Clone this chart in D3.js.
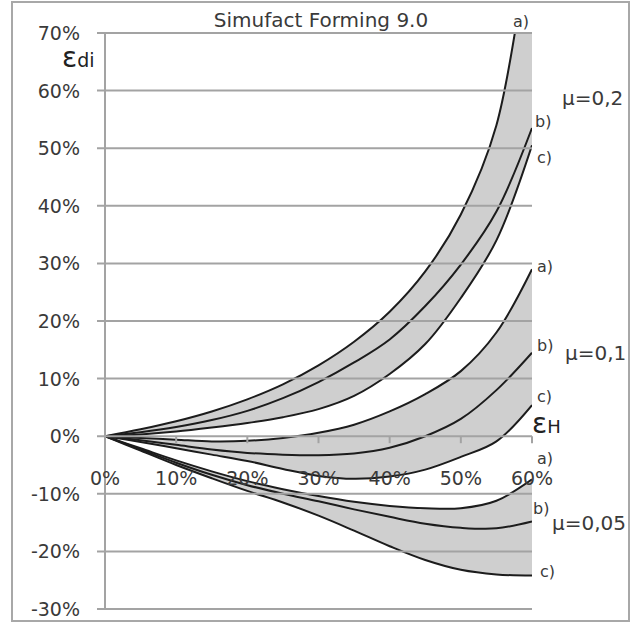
<!DOCTYPE html>
<html><head><meta charset="utf-8">
<script src="https://cdn.jsdelivr.net/npm/d3@7"></script>
<style>body{margin:0;background:#fff}</style>
</head><body>
<svg id="c" width="632" height="625"></svg>
<script>
// ---- data (values in %) ----
const strainH = [0,5,10,15,20,25,30,35,40,45,50,55,60];
const mu02a  = [0,1.2,2.6,4.3,6.4,9.0,12.3,16.4,21.6,28.6,38.5,54,90];
const mu02b  = [0,0.7,1.6,2.8,4.4,6.6,9.4,12.8,16.8,22.6,29.8,39,53.5];
const mu02c  = [0,0.3,0.8,1.5,2.3,3.3,4.7,7.0,10.8,16,24,34,50.5];
const mu01a  = [0,-0.3,-0.6,-0.9,-0.8,-0.3,0.6,2,4.3,7.3,11.3,18,29];
const mu01b  = [0,-0.7,-1.5,-2.3,-2.9,-3.2,-3.3,-3.0,-2.0,0,3.0,8,14.5];
const mu01c  = [0,-1.0,-2.1,-3.2,-4.3,-5.7,-6.9,-7.4,-7.0,-5.8,-3.6,-0.9,5.4];
const mu005a = [0,-2.1,-4.2,-6.1,-7.8,-9.2,-10.4,-11.4,-12.1,-12.5,-12.5,-11.2,-7.5];
const mu005b = [0,-2.3,-4.6,-6.7,-8.5,-10,-11.3,-12.7,-14.0,-15.2,-15.9,-16.0,-14.8];
const mu005c = [0,-2.5,-5.0,-7.3,-9.5,-11.5,-13.8,-16.4,-19.1,-21.5,-23.2,-24,-24.2];
const xTicks = [0,10,20,30,40,50,60];
const yTicks = [-30,-20,-10,0,10,20,30,40,50,60,70];
const title = "Simufact Forming 9.0";
const groups = [
  {mu:"μ=0,2",  a:mu02a,  b:mu02b,  c:mu02c},
  {mu:"μ=0,1",  a:mu01a,  b:mu01b,  c:mu01c},
  {mu:"μ=0,05", a:mu005a, b:mu005b, c:mu005c}
];

// ---- layout ----
const svg = d3.select("#c");
const x = d3.scaleLinear().domain([0,60]).range([105,532]);
const y = d3.scaleLinear().domain([-30,70]).range([609,33]);
const font = "DejaVu Sans, Verdana, sans-serif";
const txt = "#3a3a3a";
const grid = "#a3a3a3";

svg.append("rect").attr("x",12).attr("y",2).attr("width",617).attr("height",619)
  .attr("fill","#fff").attr("stroke","#a8a8a8").attr("stroke-width",2);

svg.append("defs").append("clipPath").attr("id","pa").append("rect")
  .attr("x",x(0)).attr("y",y(70)).attr("width",x(60)-x(0)).attr("height",y(-30)-y(70));

const curve = d3.curveCatmullRom.alpha(0.5);
const plot = svg.append("g").attr("clip-path","url(#pa)");

// fills between a) and c)
groups.forEach(g=>{
  const pts = strainH.map((v,i)=>({x:v, hi:g.a[i], lo:g.c[i]}));
  plot.append("path").datum(pts)
    .attr("fill","#cfcfcf")
    .attr("d", d3.area().curve(curve).x(d=>x(d.x)).y0(d=>y(d.lo)).y1(d=>y(d.hi)));
});

// gridlines
svg.append("g").selectAll("line").data(yTicks).join("line")
  .attr("x1",97).attr("x2",x(60)).attr("y1",d=>y(d)).attr("y2",d=>y(d))
  .attr("stroke",grid).attr("stroke-width",2);

// y axis line
svg.append("line").attr("x1",x(0)).attr("x2",x(0)).attr("y1",y(70)).attr("y2",y(-30))
  .attr("stroke",grid).attr("stroke-width",2);
// x axis ticks
svg.append("g").selectAll("line").data(xTicks).join("line")
  .attr("x1",d=>x(d)).attr("x2",d=>x(d)).attr("y1",y(0)).attr("y2",y(0)+7)
  .attr("stroke",grid).attr("stroke-width",2);

// curves
const line = d3.line().curve(curve).x(d=>x(d[0])).y(d=>y(d[1]));
groups.forEach(g=>{
  ["a","b","c"].forEach(k=>{
    plot.append("path").datum(strainH.map((v,i)=>[v,g[k][i]]))
      .attr("fill","none").attr("stroke","#1c1c1c").attr("stroke-width",2).attr("d",line);
  });
});

// tick labels
svg.append("g").selectAll("text").data(yTicks).join("text")
  .attr("x",80).attr("y",d=>y(d)+7).attr("text-anchor","end")
  .attr("font-family",font).attr("font-size",19).attr("fill",txt)
  .text(d=>d+"%");
svg.append("g").selectAll("text").data(xTicks).join("text")
  .attr("x",d=>x(d)).attr("y",485).attr("text-anchor","middle")
  .attr("font-family",font).attr("font-size",19).attr("fill",txt)
  .text(d=>d+"%");

// title
svg.append("text").attr("x",321).attr("y",27).attr("text-anchor","middle")
  .attr("font-family",font).attr("font-size",20).attr("fill",txt).text(title);

// axis symbols
const ed = svg.append("text").attr("x",62).attr("y",67).attr("font-family",font).attr("fill","#222");
ed.append("tspan").attr("font-size",28).text("ε");
ed.append("tspan").attr("font-size",19).text("di");
const eh = svg.append("text").attr("x",532).attr("y",433).attr("font-family",font).attr("fill","#222");
eh.append("tspan").attr("font-size",28).text("ε");
eh.append("tspan").attr("font-size",18).text("H");

// curve labels
const labels = [
  {t:"a)", x:513, y:27}, {t:"b)", x:535, y:127}, {t:"c)", x:537, y:163},
  {t:"a)", x:537, y:272}, {t:"b)", x:537, y:351}, {t:"c)", x:537, y:402},
  {t:"a)", x:537, y:464}, {t:"b)", x:533, y:514}, {t:"c)", x:540, y:577}
];
svg.append("g").selectAll("text").data(labels).join("text")
  .attr("x",d=>d.x).attr("y",d=>d.y).attr("font-family",font).attr("font-size",16)
  .attr("fill",txt).text(d=>d.t);
const muPos = [{x:562,y:105},{x:565,y:360},{x:552,y:530}];
svg.append("g").selectAll("text").data(groups).join("text")
  .attr("x",(d,i)=>muPos[i].x).attr("y",(d,i)=>muPos[i].y)
  .attr("font-family",font).attr("font-size",20).attr("fill",txt).text(d=>d.mu);
</script>
</body></html>
